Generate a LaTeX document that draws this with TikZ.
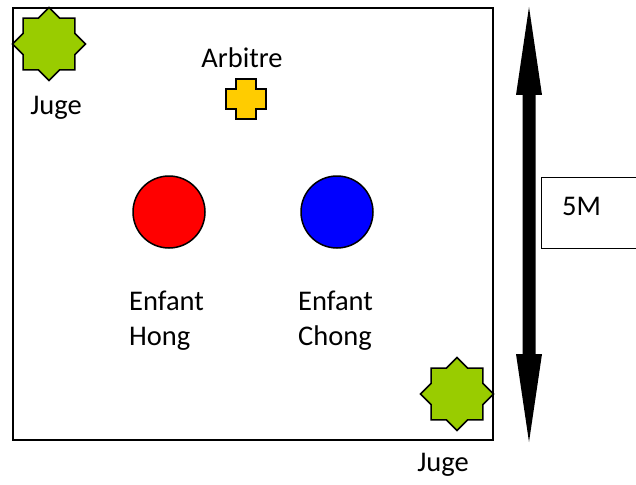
\documentclass[tikz,border=0pt]{standalone}
\usepackage{fontspec}
\setmainfont{Carlito}
\usetikzlibrary{shapes.geometric}
\definecolor{jugegreen}{HTML}{99CC00}
\definecolor{arbgold}{HTML}{FFCC00}
\tikzset{
  outline/.style={draw=black, line width=1.5pt},
  jugestar/.style={outline, star, star points=8, star point ratio=1.307, minimum size=73pt, inner sep=0pt, fill=jugegreen},
  ball/.style={outline, circle, minimum size=72pt, inner sep=0pt},
  lbl/.style={font=\fontsize{28.5}{35}\selectfont, inner sep=0pt, align=left},
}
\begin{document}
\begin{tikzpicture}[x=1pt,y=-1pt]
\useasboundingbox (0,0) rectangle (636,484);
% field
\draw[line width=1.5pt] (13,8) rectangle (493,440);
% judges
\node[jugestar] (j1) at (49,44) {};
\node[jugestar] (j2) at (457,394) {};
\node[lbl, anchor=base] (j1l) at (56,114) {Juge};
\node[lbl, anchor=base] (j2l) at (443,471) {Juge};
% referee
\node[lbl, anchor=base] (arbl) at (242,68) {Arbitre};
\coordinate (arb) at (246,99);
\draw[outline, fill=arbgold, line join=miter, shift={(arb)}]
  (-10,-20) -- (10,-20) -- (10,-10) -- (20,-10) -- (20,10) -- (10,10) -- (10,20)
  -- (-10,20) -- (-10,10) -- (-20,10) -- (-20,-10) -- (-10,-10) -- cycle;
% children
\node[ball, fill=red] (hong) at (169,212) {};
\node[ball, fill=blue] (chong) at (337,212) {};
\node[lbl, anchor=base west] (hongl) at (129,345) {Enfant\\Hong};
\node[lbl, anchor=base west] (chongl) at (298,345) {Enfant\\Chong};
% dimension arrow
\coordinate (atop) at (529,7);
\coordinate (abot) at (529,442);
\fill[black] (atop) -- (542,95) -- (535.5,95) -- (535.5,354) -- (542,354) -- (abot)
  -- (516,354) -- (522.5,354) -- (522.5,95) -- (516,95) -- cycle;
% 5M box
\draw[line width=1pt] (645,177) -- (541,177) -- (541,248) -- (645,248);
\node[lbl, anchor=base west] (dim) at (562,215) {5M};
\end{tikzpicture}
\end{document}
